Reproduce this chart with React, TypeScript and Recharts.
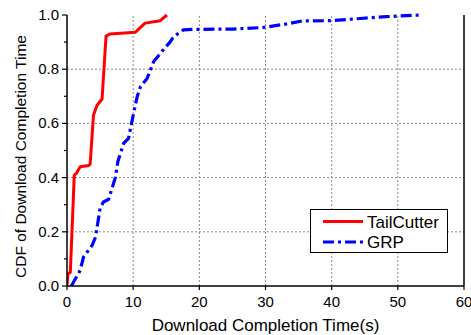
import React from "react";
import { LineChart, Line, XAxis, YAxis, ReferenceLine, Legend } from "recharts";

const tailX = [0, 0.15, 0.5, 1.1, 1.4, 2.0, 3.3, 3.5, 4.0, 4.5, 5.3, 5.9, 6.5, 10.3, 11.8, 14.1, 15.1];
const tailY = [0, 0.046, 0.05, 0.41, 0.415, 0.44, 0.445, 0.45, 0.63, 0.665, 0.69, 0.922, 0.93, 0.936, 0.97, 0.979, 1.0];

const grpX = [0.65, 2.0, 2.5, 3.8, 4.3, 5.0, 5.5, 6.3, 7.3, 7.7, 8.55, 9.3, 10.06, 10.6, 11.1, 12.1, 13.1, 14.6, 15.6, 16.1, 17.6, 19.1, 25, 29.7, 33.2, 35.5, 39.8, 44.8, 48.3, 53.4];
const grpY = [0, 0.058, 0.107, 0.15, 0.18, 0.286, 0.31, 0.32, 0.4, 0.46, 0.526, 0.545, 0.637, 0.698, 0.735, 0.766, 0.828, 0.873, 0.901, 0.92, 0.945, 0.947, 0.948, 0.954, 0.967, 0.978, 0.979, 0.988, 0.994, 1.0];

const xTicks = [0, 10, 20, 30, 40, 50, 60];
const xGrid = [10, 20, 30, 40, 50];
const xTopTicks = [0, 12, 24, 36, 48, 60];
const yTicks = [0, 0.1, 0.2, 0.3, 0.4, 0.5, 0.6, 0.7, 0.8, 0.9, 1.0];
const yGrid = [0.2, 0.4, 0.6, 0.8];

const seriesNames = ["TailCutter", "GRP"];
const xLabel = "Download Completion Time(s)";
const yLabel = "CDF of Download Completion Time";

const tailData = tailX.map((x, i) => ({ x, y: tailY[i] }));
const grpData = grpX.map((x, i) => ({ x, y: grpY[i] }));

const FONT = "Arial, 'Liberation Sans', sans-serif";
const RED = "#ff0000";
const BLUE = "#0000ff";
const GRID = "#8a8a8a";
const GRP_DASH = "11 4 3 4";

const isMajorY = (v: number) => Math.round(v * 10) % 2 === 0;

const LeftYTick = (props: any) => {
  const { x, y, payload } = props;
  const v = payload.value as number;
  const major = isMajorY(v);
  return (
    <g>
      <line x1={x - (major ? 5 : 3)} x2={x} y1={y} y2={y} stroke="#000" strokeWidth={1.2} />
      {major && (
        <text x={x - 8} y={y + 5} textAnchor="end" fontSize={15} fontFamily={FONT} fill="#000">
          {v.toFixed(1)}
        </text>
      )}
    </g>
  );
};

const RightYTick = (props: any) => {
  const { x, y, payload } = props;
  const v = payload.value as number;
  const major = isMajorY(v);
  return <line x1={x} x2={x - (major ? 5 : 3)} y1={y} y2={y} stroke="#000" strokeWidth={1.2} />;
};

const BottomXTick = (props: any) => {
  const { x, y, payload } = props;
  return (
    <g>
      <line x1={x} x2={x} y1={y} y2={y + 4} stroke="#000" strokeWidth={1.2} />
      <text x={x} y={y + 21} textAnchor="middle" fontSize={15} fontFamily={FONT} fill="#000">
        {payload.value}
      </text>
    </g>
  );
};

const TopXTick = (props: any) => {
  const { x, y } = props;
  return <line x1={x} x2={x} y1={y} y2={y + 4} stroke="#000" strokeWidth={1.2} />;
};

const LegendBox = () => (
  <svg width={139} height={44} style={{ display: "block" }}>
    <rect x={0.5} y={0.5} width={137} height={43} fill="#fff" stroke="#000" strokeWidth={1} />
    <line x1={13} x2={53} y1={12.5} y2={12.5} stroke={RED} strokeWidth={3} />
    <text x={57} y={18.5} fontSize={17} fontFamily={FONT} fill="#000">{seriesNames[0]}</text>
    <line x1={13} x2={53} y1={33} y2={33} stroke={BLUE} strokeWidth={3} strokeDasharray={GRP_DASH} />
    <text x={57} y={39} fontSize={17} fontFamily={FONT} fill="#000">{seriesNames[1]}</text>
  </svg>
);

export default function App() {
  return (
    <div style={{ position: "absolute", left: 0, top: 0, width: 471, height: 335, background: "#fff" }}>
      <LineChart width={471} height={335} margin={{ top: 15, right: 0, left: 0, bottom: 0 }}>
        <XAxis
          xAxisId="bottom"
          dataKey="x"
          type="number"
          domain={[0, 60]}
          ticks={xTicks}
          allowDataOverflow
          orientation="bottom"
          height={49}
          axisLine={{ stroke: "#000", strokeWidth: 1.5 }}
          tickLine={false}
          tickSize={0}
          tickMargin={0}
          tick={<BottomXTick />}
          interval={0}
          label={{
            content: (p: any) => {
              const vb = p.viewBox;
              return (
                <text x={vb.x + vb.width / 2} y={vb.y + 45} textAnchor="middle" fontSize={17} fontFamily={FONT} fill="#000">
                  {xLabel}
                </text>
              );
            },
          }}
        />
        <XAxis
          xAxisId="top"
          dataKey="x"
          type="number"
          domain={[0, 60]}
          ticks={xTopTicks}
          orientation="top"
          height={0}
          axisLine={{ stroke: "#000", strokeWidth: 1.5 }}
          tickLine={false}
          tickSize={0}
          tickMargin={0}
          tick={<TopXTick />}
          interval={0}
        />
        <YAxis
          yAxisId="left"
          dataKey="y"
          type="number"
          domain={[0, 1]}
          ticks={yTicks}
          width={67}
          axisLine={{ stroke: "#000", strokeWidth: 1.5 }}
          tickLine={false}
          tickSize={0}
          tickMargin={0}
          tick={<LeftYTick />}
          interval={0}
          label={{
            content: (p: any) => {
              const vb = p.viewBox;
              const cx = vb.x + 20;
              const cy = vb.y + vb.height / 2 + 6;
              return (
                <text x={cx} y={cy} transform={`rotate(-90 ${cx} ${cy})`} textAnchor="middle" dominantBaseline="central" fontSize={15.5} fontFamily={FONT} fill="#000">
                  {yLabel}
                </text>
              );
            },
          }}
        />
        <YAxis
          yAxisId="right"
          orientation="right"
          type="number"
          domain={[0, 1]}
          ticks={yTicks}
          width={7}
          axisLine={{ stroke: "#000", strokeWidth: 1.5 }}
          tickLine={false}
          tickSize={0}
          tickMargin={0}
          tick={<RightYTick />}
          interval={0}
        />
        {xGrid.map((v) => (
          <ReferenceLine key={`gx${v}`} x={v} xAxisId="bottom" yAxisId="left" stroke={GRID} strokeDasharray="2 2" strokeWidth={1} />
        ))}
        {yGrid.map((v) => (
          <ReferenceLine key={`gy${v}`} y={v} xAxisId="bottom" yAxisId="left" stroke={GRID} strokeDasharray="2 2" strokeWidth={1} />
        ))}
        <Legend
          layout="vertical"
          align="center"
          verticalAlign="middle"
          content={() => <LegendBox />}
          wrapperStyle={{ position: "absolute", left: 309.5, top: 209, width: 139, height: 44 }}
        />
        <Line
          xAxisId="bottom"
          yAxisId="left"
          data={tailData}
          dataKey="y"
          name={seriesNames[0]}
          type="linear"
          stroke={RED}
          strokeWidth={3}
          dot={false}
          isAnimationActive={false}
          strokeLinejoin="round"
        />
        <Line
          xAxisId="bottom"
          yAxisId="left"
          data={grpData}
          dataKey="y"
          name={seriesNames[1]}
          type="linear"
          stroke={BLUE}
          strokeWidth={3.2}
          strokeDasharray={GRP_DASH}
          dot={false}
          isAnimationActive={false}
          strokeLinejoin="round"
        />
      </LineChart>
    </div>
  );
}
